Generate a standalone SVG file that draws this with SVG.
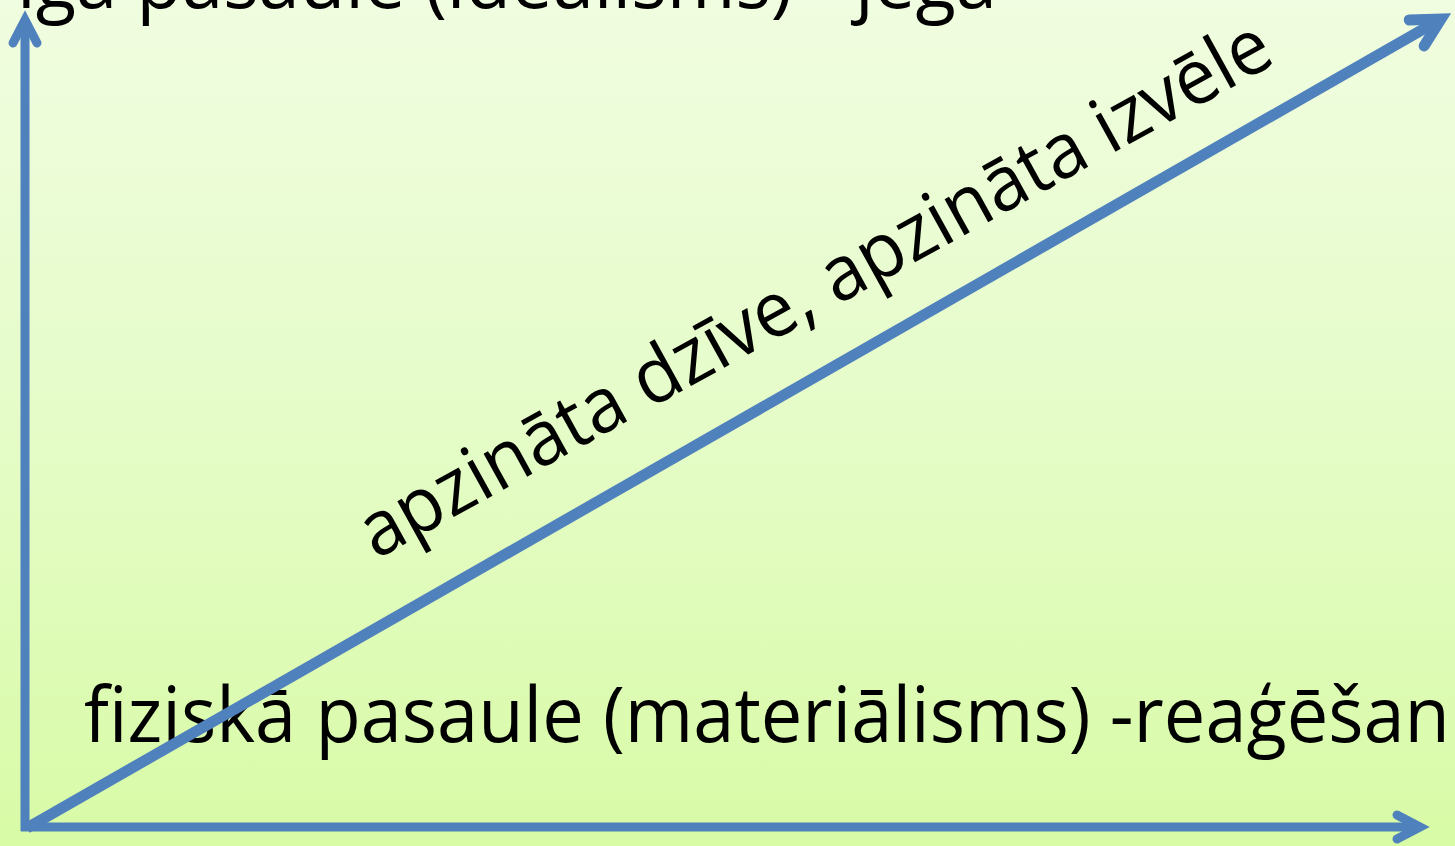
<svg xmlns="http://www.w3.org/2000/svg" width="1455" height="846" viewBox="0 0 1455 846">
<style>
.lbl{font-family:"Open Sans","Noto Sans","DejaVu Sans",sans-serif;font-size:77px;fill:#000}
.ax{stroke:#4F81BD;stroke-width:9;fill:none;stroke-linecap:butt}
.dg{stroke:#4F81BD;stroke-width:11;fill:none}
.hd{fill:none;stroke:#4F81BD;stroke-linecap:round;stroke-linejoin:miter;stroke-miterlimit:10}
</style>
<defs>
<linearGradient id="bg" x1="0" y1="0" x2="0" y2="1">
<stop offset="0" stop-color="#F0FDE0"/>
<stop offset="0.5" stop-color="#E5FCC8"/>
<stop offset="1" stop-color="#D8FBA6"/>
</linearGradient>
<marker id="ah" markerUnits="userSpaceOnUse" orient="auto" markerWidth="80" markerHeight="80" refX="0" refY="0" viewBox="-40 -40 80 80" overflow="visible">
<path class="hd" stroke-width="9" d="M-23,-12 L0,0 L-23,12"/>
</marker>
<marker id="ah2" markerUnits="userSpaceOnUse" orient="auto" markerWidth="80" markerHeight="80" refX="0" refY="0" viewBox="-40 -40 80 80" overflow="visible">
<path class="hd" stroke-width="11" d="M-28,-15 L0,0 L-28,15"/>
</marker>
</defs>
<rect width="1455" height="846" fill="url(#bg)"/>
<g id="top-label">
<text class="lbl" x="17" y="8" textLength="980" lengthAdjust="spacingAndGlyphs">īga pasaule (ideālisms) - jēga</text>
</g>
<g id="bottom-label">
<text class="lbl" x="84" y="742" textLength="1366" lengthAdjust="spacingAndGlyphs">fiziskā pasaule (materiālisms) -reaģēšan</text>
</g>
<g id="diagonal-label">
<text class="lbl" transform="translate(376,560) rotate(-28.9)" x="0" y="0" textLength="1030" lengthAdjust="spacingAndGlyphs">apzināta dzīve, apzināta izvēle</text>
</g>
<g id="connectors">
<path class="ax" d="M25,831 L25,20" marker-end="url(#ah)"/>
<path class="ax" d="M21,827 L1420,827" marker-end="url(#ah)"/>
<path class="dg" d="M27,828 L1441,19" marker-end="url(#ah2)"/>
</g>
</svg>
